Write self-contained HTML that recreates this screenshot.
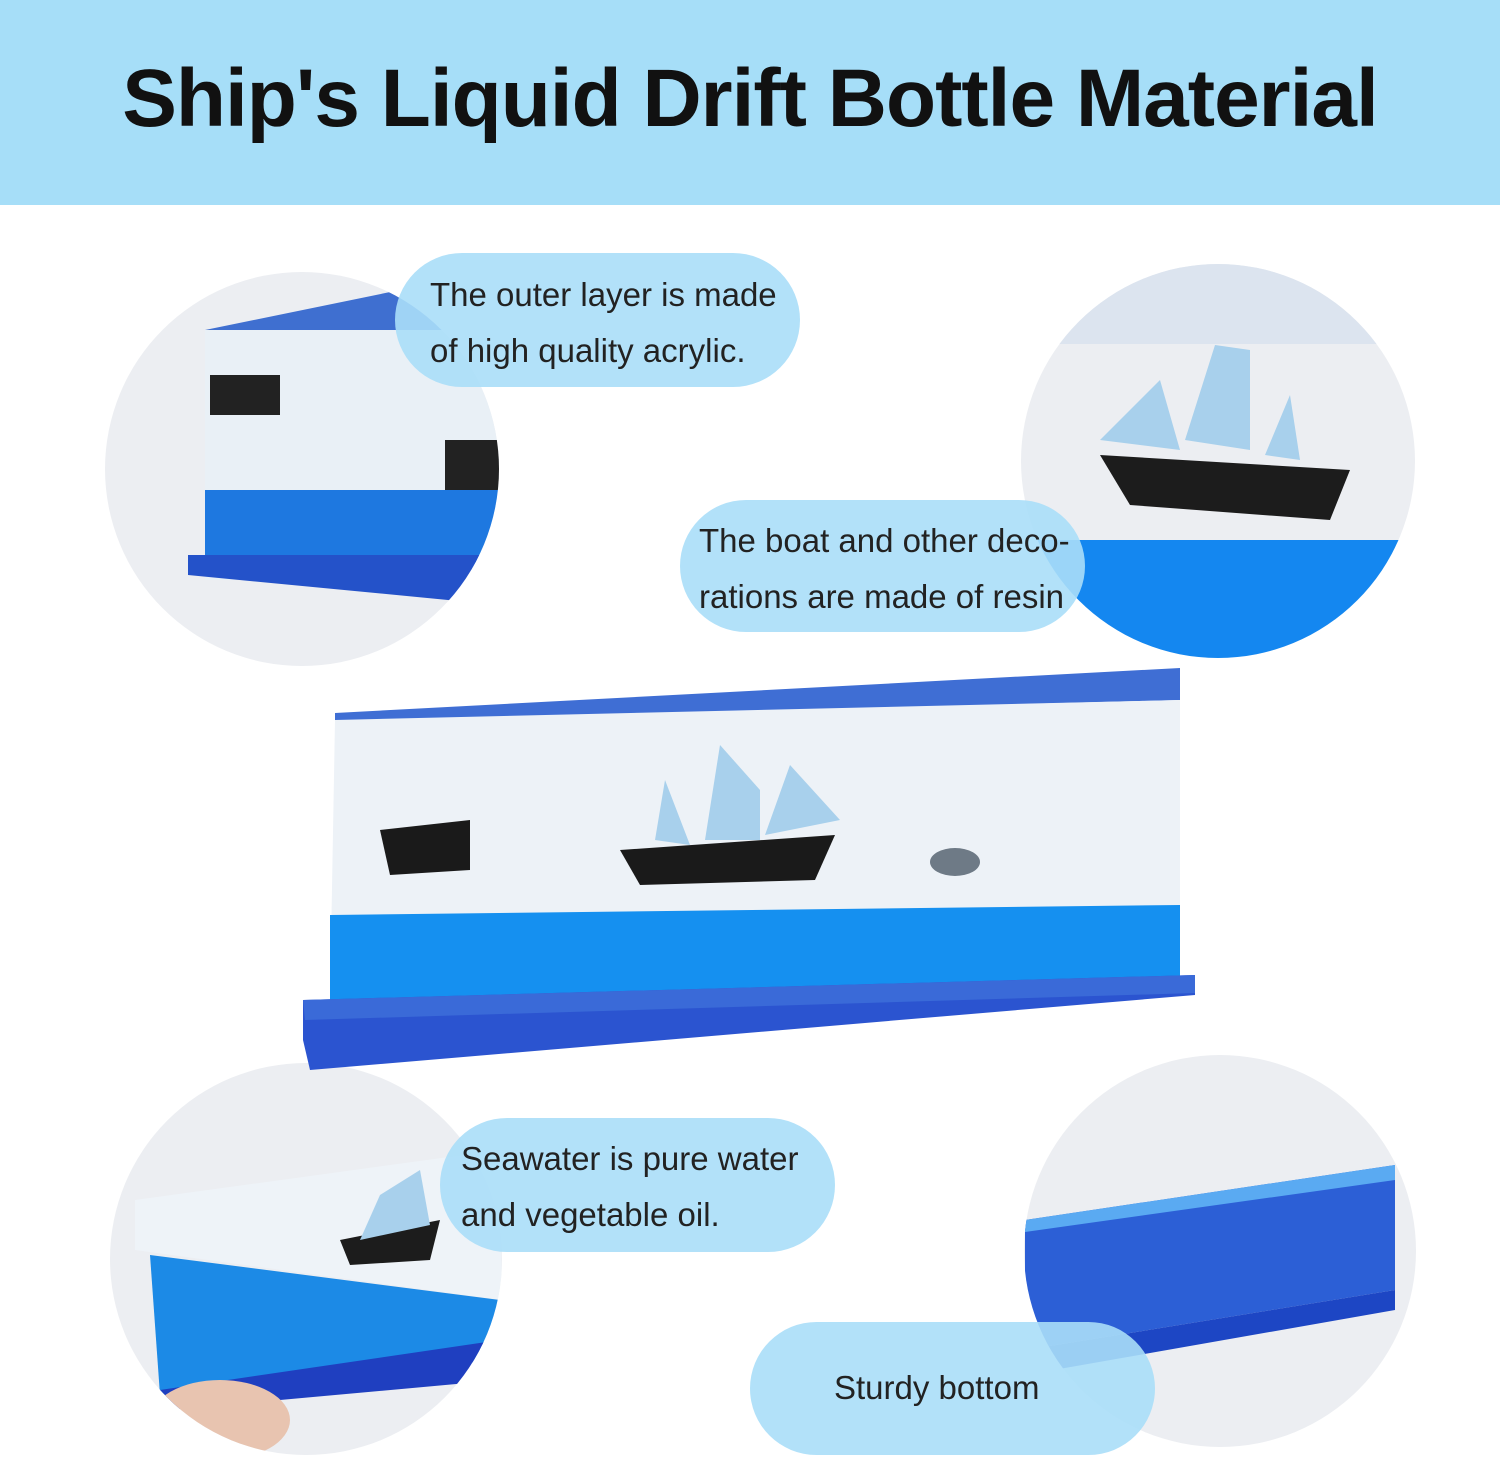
<!DOCTYPE html>
<html><head><meta charset="utf-8"><style>
html,body{margin:0;padding:0;}
body{width:1500px;height:1459px;position:relative;overflow:hidden;background:#fff;font-family:"Liberation Sans",sans-serif;}
.hdr{position:absolute;left:0;top:0;width:1500px;height:205px;background:#a6def8;}
.hdr h1{margin:0;position:absolute;left:0;width:1500px;top:52px;text-align:center;font-size:82px;font-weight:bold;color:#111;letter-spacing:-1px;}
.circ{position:absolute;border-radius:50%;background:#eceef2;overflow:hidden;}
.pill{position:absolute;background:rgba(170,222,248,0.9);border-radius:68px;font-size:33px;color:#222;line-height:56px;box-sizing:border-box;}
svg{position:absolute;left:0;top:0;}
</style></head><body>
<div class="hdr"><h1>Ship's Liquid Drift Bottle Material</h1></div>

<div class="circ" style="left:105px;top:272px;width:394px;height:394px;"></div>
<div class="circ" style="left:1021px;top:264px;width:394px;height:394px;"></div>
<div class="circ" style="left:110px;top:1063px;width:392px;height:392px;"></div>
<div class="circ" style="left:1024px;top:1055px;width:392px;height:392px;"></div>

<svg width="1500" height="1459" viewBox="0 0 1500 1459">
<defs>
<clipPath id="c1"><circle cx="302" cy="469" r="197"/></clipPath>
<clipPath id="c2"><circle cx="1218" cy="461" r="197"/></clipPath>
<clipPath id="c3"><circle cx="306" cy="1259" r="196"/></clipPath>
<clipPath id="c4"><circle cx="1220" cy="1251" r="196"/></clipPath>
</defs>
<g clip-path="url(#c1)">
<polygon points="205,330 400,290 500,300 500,330" fill="#3f6fd0"/>
<rect x="205" y="330" width="300" height="250" fill="#e9f0f6"/>
<rect x="205" y="490" width="300" height="80" fill="#1e78e0"/>
<polygon points="188,555 500,555 500,605 188,575" fill="#2452c9"/>
<rect x="210" y="375" width="70" height="40" fill="#222"/>
<rect x="445" y="440" width="60" height="50" fill="#222"/>
</g>
<g clip-path="url(#c2)">
<rect x="1021" y="264" width="394" height="80" fill="#dce4ef"/>
<rect x="1021" y="540" width="394" height="130" fill="#1487f0"/>
<polygon points="1100,455 1350,470 1330,520 1130,505" fill="#1c1c1c"/>
<polygon points="1100,440 1160,380 1180,450" fill="#a8d0ec"/>
<polygon points="1185,440 1215,345 1250,350 1250,450" fill="#a8d0ec"/>
<polygon points="1265,455 1290,395 1300,460" fill="#a8d0ec"/>
</g>
<g clip-path="url(#c3)">
<polygon points="135,1200 500,1150 502,1300 135,1250" fill="#eef3f8"/>
<polygon points="150,1255 500,1300 500,1360 160,1395" fill="#1c8ae6"/>
<polygon points="160,1390 500,1340 500,1380 170,1410" fill="#1f3fc0"/>
<polygon points="340,1240 440,1220 430,1260 350,1265" fill="#1c1c1c"/>
<polygon points="360,1240 380,1195 420,1170 430,1225" fill="#a8d0ec"/>
<ellipse cx="220" cy="1420" rx="70" ry="40" fill="#e8c4b0"/>
</g>
<g clip-path="url(#c4)">
<polygon points="1025,1220 1395,1165 1395,1290 1025,1350" fill="#2c5fd6"/>
<polygon points="1025,1220 1395,1165 1395,1180 1025,1232" fill="#5aaaf2"/>
<polygon points="1025,1350 1395,1290 1395,1310 1025,1375" fill="#1d46c4"/>
</g>
<polygon points="335,713 1180,668 1180,700 335,722" fill="#3f6ed4"/>
<polygon points="335,720 1180,700 1180,990 330,1000" fill="#edf2f7"/>
<polygon points="330,915 1180,905 1180,990 330,1000" fill="#1590f0"/>
<polygon points="303,1000 1195,975 1195,995 310,1070 303,1040" fill="#2b54d0"/>
<polygon points="303,1000 1195,975 1195,993 305,1020" fill="#3a6ad8"/>
<polygon points="620,850 835,835 815,880 640,885" fill="#1a1a1a"/>
<polygon points="655,840 665,780 690,845" fill="#a8d0ec"/>
<polygon points="705,840 720,745 760,790 760,840" fill="#a8d0ec"/>
<polygon points="765,835 790,765 840,820" fill="#a8d0ec"/>
<ellipse cx="955" cy="862" rx="25" ry="14" fill="#6e7a86"/>
<polygon points="380,830 470,820 470,870 390,875" fill="#1a1a1a"/>
</svg>

<div class="pill" style="left:395px;top:253px;width:405px;height:134px;padding:14px 0 0 35px;">The outer layer is made<br>of high quality acrylic.</div>
<div class="pill" style="left:680px;top:500px;width:405px;height:132px;padding:13px 0 0 19px;">The boat and other deco-<br>rations are made of resin</div>
<div class="pill" style="left:440px;top:1118px;width:395px;height:134px;padding:13px 0 0 21px;">Seawater is pure water<br>and vegetable oil.</div>
<div class="pill" style="left:750px;top:1322px;width:405px;height:133px;padding:38px 0 0 84px;">Sturdy bottom</div>
</body></html>
